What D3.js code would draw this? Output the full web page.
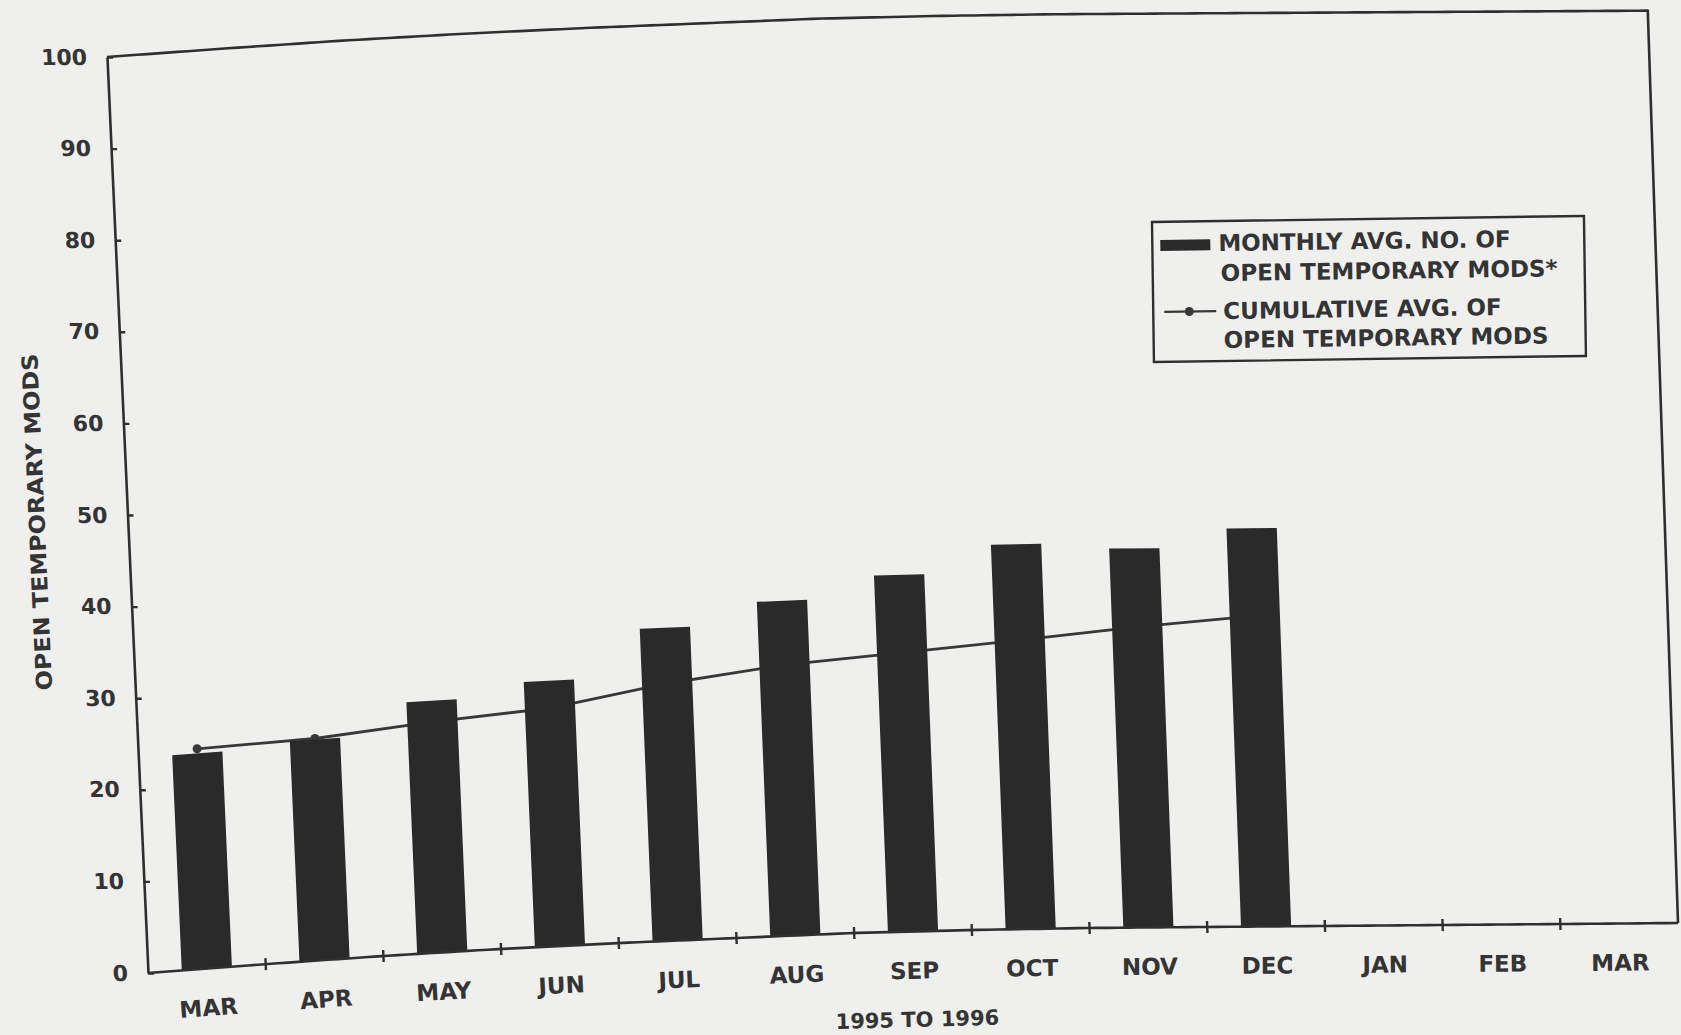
<!DOCTYPE html>
<html>
<head>
<meta charset="utf-8">
<title>Open Temporary Mods</title>
<script src="https://cdn.jsdelivr.net/npm/d3@7"></script>
<style>
  html, body { margin: 0; padding: 0; background: #efefee; }
  svg { display: block; }
  text { font-family: "DejaVu Sans", Verdana, sans-serif; font-weight: bold; fill: #343434; }
</style>
</head>
<body>
<svg id="chart" width="1681" height="1035"></svg>
<script>
// ---- data -------------------------------------------------------------
const monthLabels   = ["MAR", "APR", "MAY", "JUN", "JUL", "AUG", "SEP", "OCT", "NOV", "DEC", "JAN", "FEB", "MAR"];
const monthlyAvg    = [23.5, 24.1, 27.5, 29.0, 34.2, 36.6, 39.0, 42.1, 41.5, 43.6];
const cumulativeAvg = [24.0, 24.2, 25.2, 26.0, 28.1, 29.6, 30.5, 31.6, 32.9, 34.0];
const valueTicks    = [0, 10, 20, 30, 40, 50, 60, 70, 80, 90, 100];
const yTitle = "OPEN TEMPORARY MODS";
const xTitle = "1995 TO 1996";
const legendBarText  = ["MONTHLY AVG. NO. OF", "OPEN TEMPORARY MODS*"];
const legendLineText = ["CUMULATIVE AVG. OF", "OPEN TEMPORARY MODS"];

// ---- layout -------------------------------------------------------------
const X0 = 148;          // left end of the category axis
const W  = 1530;         // length of the category axis
const H  = 916;          // height of the value axis (0..100)

// The plot sits on a gently bowed sheet: height of the baseline along x,
// how far the vertical direction leans left, and a tiny vertical squeeze.
const bend = d3.scaleLinear()
  .domain([148, 268, 383, 500, 620, 737, 853, 971, 1088, 1204, 1321, 1440, 1562, 1678])
  .range ([973, 964, 956, 949, 943, 938, 933, 930, 928, 927, 926, 925, 924, 923]);
const lean    = d3.scaleLinear().domain([0, W]).range([0.0448, 0.033]);
const stretch = d3.scaleLinear().domain([0, W]).range([1, 0.996]);

// (u along the axis, h upward from the baseline) -> page point
function warp(u, h) {
  const xs = X0 + u;
  return [xs - h * lean(u), bend(xs) - h * stretch(u)];
}
function slopeDeg(u) {
  const xs = X0 + u;
  return Math.atan2(bend(xs + 2) - bend(xs - 2), 4) * 180 / Math.PI;
}

const x = d3.scaleBand()
  .domain(d3.range(monthLabels.length))
  .range([0, W])
  .paddingInner(0.574)
  .paddingOuter(0.287);
const y = d3.scaleLinear().domain([0, 100]).range([0, H]);
const step = x.step();
const centre = i => x(i) + x.bandwidth() / 2;

const svg = d3.select("#chart");
const ink = "#2f2f2f";

// ---- frame (top and right edges) ------------------------------------------
const topEdge = d3.range(0, W + 1, 10).map(u => warp(u, H));
topEdge.push(warp(W, 0));
svg.append("path")
  .attr("d", d3.line()(topEdge))
  .attr("fill", "none")
  .attr("stroke", ink)
  .attr("stroke-width", 2.6)
  .attr("stroke-linejoin", "round");

// ---- cumulative average line (drawn first, so the bars sit on top) ---------
const linePts = cumulativeAvg.map((v, i) => warp(centre(i), y(v)));
svg.append("path")
  .attr("d", d3.line()(linePts))
  .attr("fill", "none")
  .attr("stroke", "#383838")
  .attr("stroke-width", 2.8);
svg.append("g")
  .selectAll("circle")
  .data(linePts)
  .join("circle")
  .attr("cx", d => d[0])
  .attr("cy", d => d[1])
  .attr("r", 4.5)
  .attr("fill", "#383838");

// ---- bars ---------------------------------------------------------------
svg.append("g")
  .selectAll("path")
  .data(monthlyAvg)
  .join("path")
  .attr("d", (v, i) => {
    const u0 = x(i), u1 = x(i) + x.bandwidth(), h = y(v);
    return d3.line()([warp(u0, 0), warp(u1, 0), warp(u1, h), warp(u0, h)]) + "Z";
  })
  .attr("fill", "#2a2a2a");

// ---- category axis ----------------------------------------------------------
const baseLine = d3.range(0, W + 1, 10).map(u => warp(u, 0));
svg.append("path")
  .attr("d", d3.line()(baseLine))
  .attr("fill", "none")
  .attr("stroke", ink)
  .attr("stroke-width", 2.6);

svg.append("g")
  .selectAll("path")
  .data(d3.range(1, monthLabels.length))
  .join("path")
  .attr("d", i => d3.line()([warp(i * step, 6), warp(i * step, -6)]))
  .attr("stroke", ink)
  .attr("stroke-width", 2.4);

svg.append("g")
  .selectAll("text")
  .data(monthLabels)
  .join("text")
  .attr("transform", (m, i) => {
    const p = warp(centre(i), -39);
    return `translate(${p[0]},${p[1]}) rotate(${slopeDeg(centre(i))})`;
  })
  .attr("text-anchor", "middle")
  .attr("dy", "0.36em")
  .style("font-size", "23px")
  .text(m => m);

{
  const u = 766;
  const p = warp(u, -88);
  svg.append("text")
    .attr("transform", `translate(${p[0]},${p[1]}) rotate(${slopeDeg(u)})`)
    .attr("text-anchor", "middle")
    .attr("dy", "0.36em")
    .style("font-size", "21px")
    .text(xTitle);
}

// ---- value axis -------------------------------------------------------------
const leanDeg = Math.atan(lean(0)) * 180 / Math.PI;
const yAxis = d3.axisLeft(y.copy().range([0, -H]))
  .tickValues(valueTicks)
  .tickFormat(d3.format("d"))
  .tickSizeInner(-6)
  .tickSizeOuter(0)
  .tickPadding(20);
const gy = svg.append("g")
  .attr("transform", `translate(${X0},${bend(X0)}) skewX(${leanDeg})`)
  .call(yAxis);
gy.attr("font-family", null).attr("font-size", null);
gy.select(".domain").attr("stroke", ink).attr("stroke-width", 2.6);
gy.selectAll(".tick line").attr("stroke", ink).attr("stroke-width", 2.4);
gy.selectAll(".tick text")
  .attr("fill", null)
  .style("font-size", "22px");

{
  const p = warp(0, 451);
  svg.append("text")
    .attr("transform", `translate(${p[0] - 91},${p[1]}) rotate(${-90 - leanDeg})`)
    .attr("text-anchor", "middle")
    .attr("dy", "0.36em")
    .style("font-size", "22px")
    .attr("textLength", 337)
    .attr("lengthAdjust", "spacingAndGlyphs")
    .text(yTitle);
}

// ---- legend -------------------------------------------------------------
const lg = svg.append("g").attr("transform", "translate(1152,222) rotate(-0.8)");
lg.append("rect")
  .attr("width", 432).attr("height", 140)
  .attr("fill", "none")
  .attr("stroke", ink)
  .attr("stroke-width", 2.4);
lg.append("rect")
  .attr("x", 8).attr("y", 18).attr("width", 50).attr("height", 11)
  .attr("fill", "#2a2a2a");
lg.append("line")
  .attr("x1", 11).attr("x2", 63).attr("y1", 90).attr("y2", 90)
  .attr("stroke", "#383838").attr("stroke-width", 2.4);
lg.append("circle")
  .attr("cx", 36).attr("cy", 90).attr("r", 4.5)
  .attr("fill", "#383838");
lg.selectAll("text.bar")
  .data(legendBarText)
  .join("text")
  .attr("class", "bar")
  .attr("x", (d, i) => 66 + i * 2)
  .attr("y", (d, i) => 30 + i * 30)
  .style("font-size", "23px")
  .text(d => d);
lg.selectAll("text.cum")
  .data(legendLineText)
  .join("text")
  .attr("class", "cum")
  .attr("x", 70)
  .attr("y", (d, i) => 98 + i * 29)
  .style("font-size", "23px")
  .text(d => d);
</script>
</body>
</html>
